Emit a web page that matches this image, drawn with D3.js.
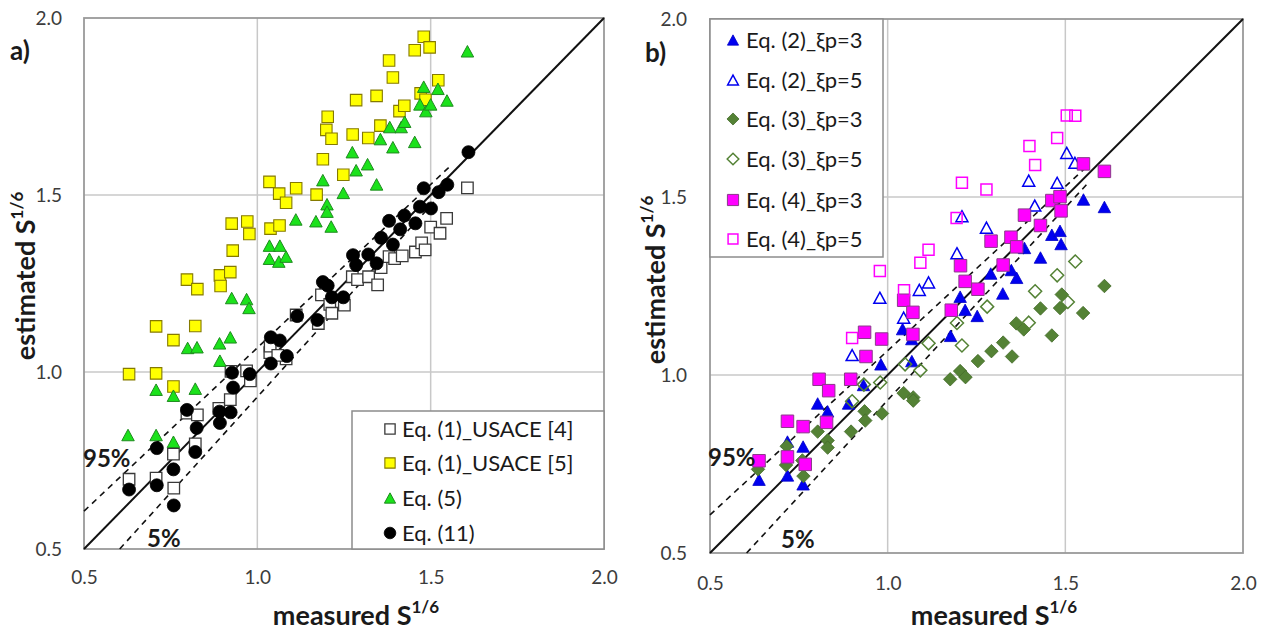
<!DOCTYPE html>
<html>
<head>
<meta charset="utf-8">
<script src="https://cdn.jsdelivr.net/npm/d3@7"></script>
<style>
  body { margin: 0; background: #fff; }
  svg { display: block; }
</style>
</head>
<body>
<svg id="chart" width="1268" height="630"></svg>
<script>
// ---------- data: [measured S^1/6, estimated S^1/6] ----------
// panel a
const usace4 = [[0.630,0.697],[0.708,0.700],[0.758,0.768],[0.759,0.672],[0.797,0.884],[0.827,0.879],[0.821,0.797],[0.889,0.897],[0.922,0.922],[0.924,1.002],[0.969,1.003],[0.980,0.975],[1.036,1.055],[1.037,1.073],[1.083,1.037],[1.059,1.047],[1.112,1.161],[1.176,1.137],[1.185,1.218],[1.209,1.191],[1.215,1.166],[1.251,1.189],[1.274,1.269],[1.289,1.261],[1.321,1.269],[1.347,1.246],[1.357,1.295],[1.380,1.326],[1.396,1.320],[1.418,1.328],[1.456,1.339],[1.474,1.365],[1.484,1.345],[1.500,1.409],[1.527,1.392],[1.546,1.434],[1.606,1.520]];
const usace5 = [[0.630,0.994],[0.708,0.996],[0.708,1.129],[0.758,1.090],[0.758,0.959],[0.821,1.130],[0.797,1.261],[0.827,1.234],[0.892,1.273],[0.894,1.243],[0.922,1.282],[0.929,1.343],[0.926,1.419],[0.971,1.425],[0.977,1.390],[1.035,1.537],[1.038,1.405],[1.064,1.414],[1.063,1.504],[1.083,1.478],[1.112,1.519],[1.171,1.501],[1.189,1.601],[1.199,1.684],[1.203,1.721],[1.214,1.659],[1.248,1.557],[1.275,1.671],[1.285,1.768],[1.320,1.661],[1.344,1.780],[1.355,1.696],[1.380,1.880],[1.391,1.832],[1.410,1.737],[1.424,1.752],[1.454,1.909],[1.480,1.947],[1.497,1.917],[1.471,1.787],[1.485,1.769],[1.522,1.824]];
const eq5 = [[0.627,0.822],[0.708,0.822],[0.758,0.803],[0.708,0.950],[0.758,0.933],[0.821,0.953],[0.799,1.068],[0.826,1.070],[0.891,1.081],[0.922,1.098],[0.892,1.032],[0.926,1.209],[0.969,1.206],[0.976,1.181],[1.035,1.357],[1.065,1.357],[1.035,1.320],[1.062,1.312],[1.083,1.326],[1.111,1.431],[1.169,1.426],[1.189,1.542],[1.201,1.474],[1.201,1.453],[1.213,1.411],[1.248,1.506],[1.274,1.621],[1.285,1.570],[1.318,1.587],[1.344,1.530],[1.355,1.658],[1.391,1.635],[1.382,1.692],[1.415,1.692],[1.425,1.707],[1.454,1.650],[1.469,1.756],[1.480,1.806],[1.486,1.737],[1.500,1.756],[1.521,1.800],[1.547,1.767],[1.606,1.906]];
const eq11 = [[0.630,0.668],[0.710,0.680],[0.710,0.785],[0.758,0.725],[0.759,0.623],[0.797,0.893],[0.825,0.842],[0.821,0.774],[0.891,0.888],[0.923,0.886],[0.892,0.856],[0.927,0.998],[0.930,0.956],[0.978,0.994],[1.039,1.024],[1.039,1.098],[1.065,1.089],[1.085,1.045],[1.115,1.158],[1.173,1.147],[1.189,1.254],[1.203,1.244],[1.215,1.211],[1.248,1.211],[1.276,1.330],[1.285,1.302],[1.320,1.332],[1.344,1.307],[1.357,1.379],[1.391,1.360],[1.380,1.427],[1.412,1.403],[1.424,1.442],[1.456,1.420],[1.469,1.467],[1.480,1.519],[1.501,1.462],[1.523,1.508],[1.548,1.529],[1.609,1.621]];

// panel b
const eq2p3 = [[0.638,0.706],[0.718,0.718],[0.762,0.693],[0.718,0.813],[0.762,0.799],[0.803,0.920],[0.831,0.898],[0.890,0.920],[0.932,0.972],[0.981,1.030],[1.042,1.129],[1.068,1.039],[1.068,1.101],[1.177,1.110],[1.204,1.220],[1.218,1.183],[1.252,1.166],[1.290,1.285],[1.324,1.229],[1.348,1.295],[1.363,1.273],[1.385,1.357],[1.430,1.330],[1.462,1.394],[1.485,1.405],[1.488,1.368],[1.551,1.493],[1.610,1.472]];
const eq2p5 = [[0.900,1.056],[0.978,1.217],[1.045,1.161],[1.089,1.239],[1.115,1.260],[1.195,1.342],[1.209,1.446],[1.278,1.414],[1.397,1.546],[1.414,1.476],[1.477,1.540],[1.504,1.624],[1.527,1.596]];
const eq3p3 = [[0.635,0.735],[0.716,0.800],[0.714,0.747],[0.763,0.716],[0.760,0.760],[0.803,0.841],[0.831,0.816],[0.831,0.796],[0.897,0.841],[0.935,0.898],[0.937,0.872],[0.984,0.892],[1.045,0.949],[1.072,0.937],[1.072,0.928],[1.176,0.988],[1.204,1.011],[1.219,0.994],[1.254,1.039],[1.292,1.067],[1.325,1.091],[1.350,1.052],[1.362,1.145],[1.383,1.128],[1.430,1.187],[1.462,1.111],[1.485,1.188],[1.490,1.226],[1.550,1.174],[1.610,1.250]];
const eq3p5 = [[0.900,0.926],[0.933,0.973],[0.979,0.979],[1.049,1.030],[1.092,1.013],[1.115,1.089],[1.195,1.146],[1.209,1.083],[1.280,1.192],[1.397,1.147],[1.415,1.235],[1.477,1.280],[1.507,1.205],[1.528,1.319]];
const eq4p3 = [[0.638,0.759],[0.718,0.870],[0.718,0.770],[0.762,0.855],[0.768,0.749],[0.807,0.988],[0.834,0.956],[0.828,0.867],[0.896,0.988],[0.935,1.120],[0.939,1.052],[0.983,1.101],[1.045,1.210],[1.071,1.176],[1.071,1.114],[1.179,1.182],[1.205,1.307],[1.218,1.263],[1.254,1.241],[1.291,1.376],[1.325,1.309],[1.347,1.387],[1.363,1.360],[1.385,1.449],[1.430,1.420],[1.462,1.490],[1.485,1.501],[1.488,1.461],[1.551,1.593],[1.610,1.572]];
const eq4p5 = [[0.900,1.104],[0.978,1.292],[1.046,1.238],[1.092,1.315],[1.115,1.352],[1.194,1.441],[1.209,1.540],[1.278,1.521],[1.399,1.643],[1.415,1.590],[1.477,1.666],[1.504,1.729],[1.528,1.728]];

// axes, grid and reference lines
const axisDomain = [0.5, 2.0];
const tickValues = [0.5, 1.0, 1.5, 2.0];
const gridValues = [1.0, 1.5];
const lineEqual = [[0.5, 0.5], [2.0, 2.0]];
const line95 = [[0.5, 0.607], [1.56, 1.585]];
const line5 = [[0.603, 0.5], [1.56, 1.535]];

// ---------- marker shapes (size = bounding width squared) ----------
const shapeSquare = { draw(ctx, size) { const s = Math.sqrt(size); ctx.rect(-s / 2, -s / 2, s, s); } };
const shapeTriangle = { draw(ctx, size) {
  const s = Math.sqrt(size), h = s * 0.92;
  ctx.moveTo(0, -h / 2); ctx.lineTo(s / 2, h / 2); ctx.lineTo(-s / 2, h / 2); ctx.closePath();
} };
const shapeDiamond = { draw(ctx, size) {
  const r = Math.sqrt(size) / 2;
  ctx.moveTo(0, -r); ctx.lineTo(r, 0); ctx.lineTo(0, r); ctx.lineTo(-r, 0); ctx.closePath();
} };
const shapeCircle = { draw(ctx, size) { const r = Math.sqrt(size) / 2; ctx.moveTo(r, 0); ctx.arc(0, 0, r, 0, 2 * Math.PI); } };

const FONT = "Lato, 'Noto Sans', 'DejaVu Sans', sans-serif";
const svg = d3.select('#chart');

const panels = [
  {
    box: { left: 84, right: 604, top: 18, bottom: 549 },
    tag: { text: 'a)', x: 10, y: 60 },
    p95: { x: 83, y: 467 }, p5: { x: 147, y: 547 },
    xTitle: { x: 356, y: 625 }, yTitle: { x: 35, y: 276 },
    xPad: 22, yPad: 22,
    legend: { x: 352, y: 411, w: 252, h: 138, mx: 390, tx: 402, rows: [429, 463, 498, 533] },
    series: [
      { name: 'Eq. (1)_USACE [4]', data: usace4, shape: shapeSquare, w: 11.5, fill: '#ffffff', stroke: '#3a3a3a', sw: 1.3 },
      { name: 'Eq. (1)_USACE [5]', data: usace5, shape: shapeSquare, w: 11.5, fill: '#ffff00', stroke: '#857a00', sw: 1.1 },
      { name: 'Eq. (5)', data: eq5, shape: shapeTriangle, w: 12.5, fill: '#1be21b', stroke: '#1f8a1f', sw: 1 },
      { name: 'Eq. (11)', data: eq11, shape: shapeCircle, w: 13, fill: '#000000', stroke: '#000000', sw: 0.8 }
    ]
  },
  {
    box: { left: 710, right: 1243, top: 19, bottom: 553 },
    tag: { text: 'b)', x: 645, y: 62 },
    p95: { x: 708, y: 466 }, p5: { x: 781, y: 548 },
    xTitle: { x: 994, y: 625 }, yTitle: { x: 665, y: 280 },
    xPad: 24, yPad: 23,
    legend: { x: 710, y: 19, w: 173, h: 238, mx: 733, tx: 746, rows: [40, 80, 119, 159, 200, 239] },
    series: [
      { name: 'Eq. (2)_ξp=3', data: eq2p3, shape: shapeTriangle, w: 12.5, fill: '#0000f0', stroke: '#0000c8', sw: 0.8 },
      { name: 'Eq. (2)_ξp=5', data: eq2p5, shape: shapeTriangle, w: 12, fill: 'none', stroke: '#0000f0', sw: 1.5 },
      { name: 'Eq. (3)_ξp=3', data: eq3p3, shape: shapeDiamond, w: 13.5, fill: '#548235', stroke: '#446b2a', sw: 0.8 },
      { name: 'Eq. (3)_ξp=5', data: eq3p5, shape: shapeDiamond, w: 13, fill: 'none', stroke: '#548235', sw: 1.5 },
      { name: 'Eq. (4)_ξp=3', data: eq4p3, shape: shapeSquare, w: 12.5, fill: '#ff00ff', stroke: '#8a3a8a', sw: 1 },
      { name: 'Eq. (4)_ξp=5', data: eq4p5, shape: shapeSquare, w: 11, fill: 'none', stroke: '#ff00ff', sw: 1.5 }
    ]
  }
];

function addTitle(g, x, y, rotate) {
  return g.append('text')
    .attr('font-family', FONT).attr('font-weight', 700).attr('font-size', 27)
    .attr('fill', '#1a1a1a').attr('text-anchor', 'middle')
    .attr('transform', rotate ? `translate(${x},${y}) rotate(-90)` : `translate(${x},${y})`);
}

panels.forEach(p => {
  const b = p.box;
  const x = d3.scaleLinear().domain(axisDomain).range([b.left, b.right]);
  const y = d3.scaleLinear().domain(axisDomain).range([b.bottom, b.top]);
  const g = svg.append('g');

  // grid
  g.selectAll('line.gv').data(gridValues).join('line').attr('class', 'gv')
    .attr('x1', d => x(d)).attr('x2', d => x(d)).attr('y1', b.top).attr('y2', b.bottom)
    .attr('stroke', '#c8c8c8').attr('stroke-width', 1.5);
  g.selectAll('line.gh').data(gridValues).join('line').attr('class', 'gh')
    .attr('y1', d => y(d)).attr('y2', d => y(d)).attr('x1', b.left).attr('x2', b.right)
    .attr('stroke', '#c8c8c8').attr('stroke-width', 1.5);

  // plot frame
  g.append('rect').attr('x', b.left).attr('y', b.top)
    .attr('width', b.right - b.left).attr('height', b.bottom - b.top)
    .attr('fill', 'none').attr('stroke', '#9a9a9a').attr('stroke-width', 1.8);

  // tick labels
  const fmt = d3.format('.1f');
  const ax = g.append('g').attr('transform', `translate(0,${b.bottom})`)
    .call(d3.axisBottom(x).tickValues(tickValues).tickSize(0).tickPadding(p.xPad).tickFormat(fmt));
  const ay = g.append('g').attr('transform', `translate(${b.left},0)`)
    .call(d3.axisLeft(y).tickValues(tickValues).tickSize(0).tickPadding(p.yPad).tickFormat(fmt));
  [ax, ay].forEach(a => {
    a.select('.domain').remove();
    a.selectAll('text').attr('font-family', FONT).attr('font-size', 19).attr('fill', '#3c3c3c');
  });

  // 1:1 line and 95% / 5% bounds
  const path = d3.line().x(d => x(d[0])).y(d => y(d[1]));
  g.append('path').datum(lineEqual).attr('d', path)
    .attr('stroke', '#111').attr('stroke-width', 2).attr('fill', 'none');
  [line95, line5].forEach(l => {
    g.append('path').datum(l).attr('d', path)
      .attr('stroke', '#111').attr('stroke-width', 1.6).attr('fill', 'none')
      .attr('stroke-dasharray', '6,5');
  });

  // series markers
  p.series.forEach(s => {
    const sym = d3.symbol(s.shape, s.w * s.w);
    g.append('g').selectAll('path').data(s.data).join('path')
      .attr('transform', d => `translate(${x(d[0])},${y(d[1])})`)
      .attr('d', sym)
      .attr('fill', s.fill).attr('stroke', s.stroke).attr('stroke-width', s.sw);
  });

  // band labels
  [['95%', p.p95], ['5%', p.p5]].forEach(([t, pos]) => {
    g.append('text').attr('x', pos.x).attr('y', pos.y).text(t)
      .attr('font-family', FONT).attr('font-weight', 700).attr('font-size', 24).attr('fill', '#1a1a1a');
  });

  // panel tag
  g.append('text').attr('x', p.tag.x).attr('y', p.tag.y).text(p.tag.text)
    .attr('font-family', FONT).attr('font-weight', 700).attr('font-size', 26).attr('fill', '#1a1a1a');

  // axis titles
  const xt = addTitle(g, p.xTitle.x, p.xTitle.y, false);
  xt.append('tspan').text('measured S');
  xt.append('tspan').attr('font-size', 17).attr('dy', -12).text('1/6');
  const yt = addTitle(g, p.yTitle.x, p.yTitle.y, true);
  yt.append('tspan').text('estimated S');
  yt.append('tspan').attr('font-size', 17).attr('dy', -12).text('1/6');

  // legend
  const L = p.legend;
  const lg = g.append('g');
  lg.append('rect').attr('x', L.x).attr('y', L.y).attr('width', L.w).attr('height', L.h)
    .attr('fill', '#fff').attr('stroke', '#8c8c8c').attr('stroke-width', 1.5);
  p.series.forEach((s, i) => {
    lg.append('path').attr('transform', `translate(${L.mx},${L.rows[i]})`)
      .attr('d', d3.symbol(s.shape, s.w * s.w * 0.8)())
      .attr('fill', s.fill).attr('stroke', s.stroke).attr('stroke-width', s.sw);
    lg.append('text').attr('x', L.tx).attr('y', L.rows[i]).attr('dy', '0.36em').text(s.name)
      .attr('font-family', FONT).attr('font-size', 22).attr('fill', '#1a1a1a');
  });
});
</script>
</body>
</html>
